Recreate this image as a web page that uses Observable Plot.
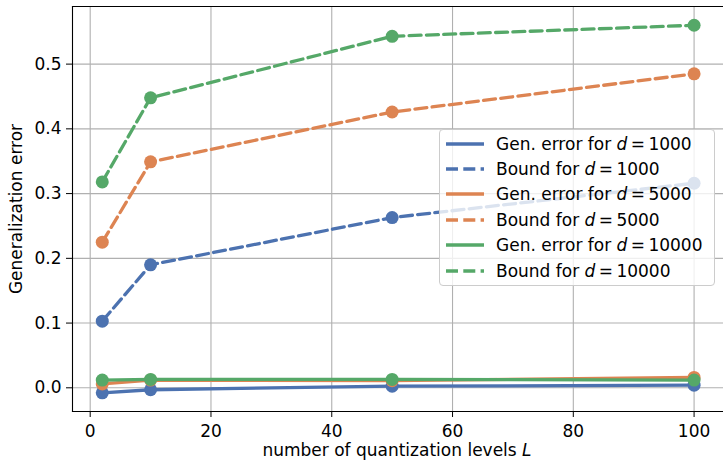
<!DOCTYPE html>
<html>
<head>
<meta charset="utf-8">
<script src="https://cdn.jsdelivr.net/npm/d3@7"></script>
<script src="https://cdn.jsdelivr.net/npm/@observablehq/plot@0.6"></script>
<style>
  html, body { margin: 0; padding: 0; background: white; overflow: hidden; }
  #wrap { position: relative; width: 723px; height: 461px; font-family: "DejaVu Sans", sans-serif; }
  #legend { position: absolute; left: 439px; top: 129px; width: 276px; height: 157px;
    background: rgba(255,255,255,0.8); border: 1px solid #cccccc; border-radius: 4px; box-sizing: border-box; }
  .row { position: absolute; left: 6px; height: 22px; display: flex; align-items: center; font-size: 17px; color: #000; white-space: nowrap; }
  .row svg { margin-right: 12px; }
  .row i { font-style: italic; }
</style>
</head>
<body>
<div id="wrap"><div id="chart"></div><div id="legend"></div></div>
<script>
const levels = [2, 10, 50, 100];
const dims = [1000, 5000, 10000];
const colors = ["#4C72B0", "#DD8452", "#55A868"];
const genD1000 = [-0.0077, -0.003, 0.0025, 0.004];
const boundD1000 = [0.103, 0.190, 0.263, 0.316];
const genD5000 = [0.006, 0.012, 0.011, 0.016];
const boundD5000 = [0.225, 0.349, 0.426, 0.485];
const genD10000 = [0.012, 0.013, 0.013, 0.012];
const boundD10000 = [0.318, 0.448, 0.543, 0.560];
const xTicks = [0, 20, 40, 60, 80, 100];
const yTicks = [0.0, 0.1, 0.2, 0.3, 0.4, 0.5];

const series = [
  {d: dims[0], kind: "gen", values: genD1000, color: colors[0]},
  {d: dims[0], kind: "bound", values: boundD1000, color: colors[0]},
  {d: dims[1], kind: "gen", values: genD5000, color: colors[1]},
  {d: dims[1], kind: "bound", values: boundD5000, color: colors[1]},
  {d: dims[2], kind: "gen", values: genD10000, color: colors[2]},
  {d: dims[2], kind: "bound", values: boundD10000, color: colors[2]},
];

const marks = [
  Plot.gridX(xTicks, {stroke: "#b0b0b0", strokeOpacity: 1, strokeWidth: 1.1}),
  Plot.gridY(yTicks, {stroke: "#b0b0b0", strokeOpacity: 1, strokeWidth: 1.1}),
];
for (const s of series) {
  const data = levels.map((L, i) => ({L, v: s.values[i]}));
  marks.push(Plot.line(data, {x: "L", y: "v", stroke: s.color, strokeWidth: 3.3,
    strokeDasharray: s.kind === "bound" ? "12,5.3" : null}));
  marks.push(Plot.dot(data, {x: "L", y: "v", fill: s.color, r: 6.5}));
}
marks.push(Plot.frame({anchor: "left", stroke: "black", strokeWidth: 1.1}));
marks.push(Plot.frame({anchor: "top", stroke: "black", strokeWidth: 1.1}));
marks.push(Plot.frame({anchor: "bottom", stroke: "black", strokeWidth: 1.1}));
marks.push(Plot.axisX(xTicks, {tickSize: 6, tickPadding: 7, label: null, fontSize: 17}));
marks.push(Plot.axisY(yTicks, {tickSize: 6, tickPadding: 5, label: null, fontSize: 17, tickFormat: d => d.toFixed(1)}));

const chart = Plot.plot({
  width: 723, height: 461,
  marginLeft: 72, marginTop: 6, marginBottom: 50, marginRight: 0,
  x: {domain: [-2.93, 104.87]},
  y: {domain: [-0.0366, 0.589]},
  style: {fontFamily: "DejaVu Sans", fontSize: "17px", color: "black", background: "white"},
  marks
});
document.getElementById("chart").appendChild(chart);

const svg = d3.select(chart);
const xl = svg.append("text").attr("x", 397).attr("y", 456).attr("text-anchor", "middle")
  .attr("font-size", 17).attr("fill", "black");
xl.append("tspan").text("number of quantization levels ");
xl.append("tspan").attr("font-style", "italic").text("L");
svg.append("text").attr("transform", "translate(22,209) rotate(-90)").attr("text-anchor", "middle")
  .attr("font-size", 17).attr("fill", "black").text("Generalization error");

const legend = document.getElementById("legend");
series.forEach((s, i) => {
  const row = document.createElement("div");
  row.className = "row";
  row.style.top = (2.5 + i * 25.4) + "px";
  const dash = s.kind === "bound" ? 'stroke-dasharray="12,5.3"' : "";
  const label = (s.kind === "gen" ? "Gen. error for " : "Bound for ");
  row.innerHTML = `<svg width="38" height="6"><line x1="0" x2="38" y1="3" y2="3" stroke="${s.color}" stroke-width="3.3" ${dash}/></svg>` +
    `<span>${label}<i>d</i>\u2009=\u2009${s.d}</span>`;
  legend.appendChild(row);
});
</script>
</body>
</html>
